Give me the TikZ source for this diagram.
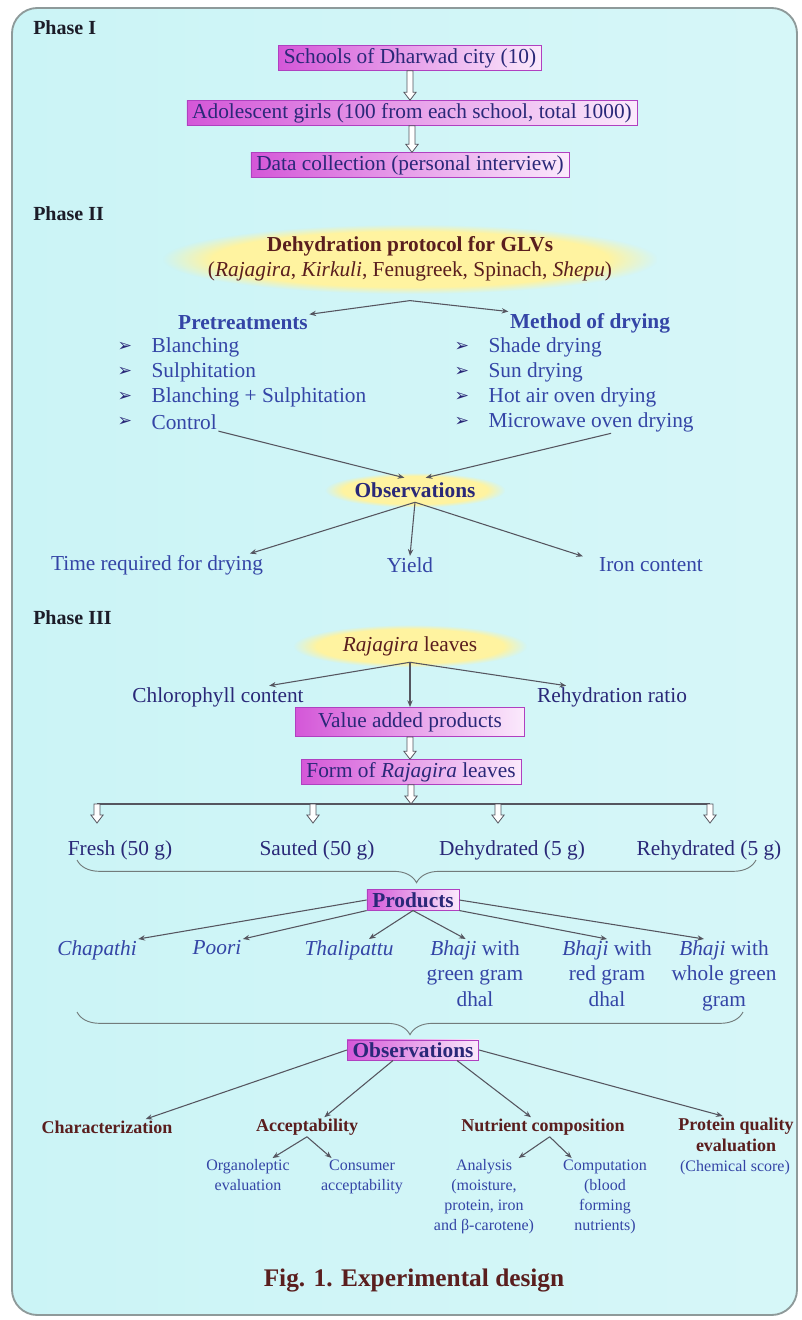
\documentclass[tikz,border=0pt]{standalone}
\usepackage{fontspec}
\setmainfont{Liberation Serif}
\newfontfamily\symfont{DejaVu Sans}
\usetikzlibrary{arrows.meta,positioning,calc,decorations.pathreplacing,fadings}
\definecolor{ink}{HTML}{1C1C28}
\definecolor{navy}{HTML}{2A2878}
\definecolor{blue}{HTML}{3445A6}
\definecolor{maroon}{HTML}{5A1E1E}
\definecolor{bgcyan}{HTML}{CBF4F6}
\definecolor{bglight}{HTML}{F1FDFD}
\definecolor{frame}{HTML}{8E9A9A}
\definecolor{magdeep}{HTML}{D457D8}
\definecolor{magpale}{HTML}{FBEAFC}
\definecolor{magedge}{HTML}{B040C0}
\definecolor{glow}{HTML}{FFF3A0}
\definecolor{linegray}{HTML}{55555F}
\tikzset{
  every node/.style={font=\fontsize{16}{19}\selectfont},
  phase/.style={font=\fontsize{15}{18}\selectfont\bfseries, text=ink, anchor=west, inner sep=0pt},
  magbox/.style={draw=magedge, line width=0.5pt, left color=magdeep, right color=magpale, text=navy, inner xsep=4pt, inner ysep=2pt},
  glowbox/.style={fill=glow, path fading=circle with fuzzy edge 20 percent, align=center},
  plain/.style={text=blue, inner sep=1pt, align=center},
  head/.style={font=\fontsize{16}{19}\selectfont\bfseries, text=blue, inner sep=1pt},
  bullet/.style={font=\symfont\fontsize{13}{14}\selectfont, text=navy, inner sep=0pt},
  crit/.style={font=\fontsize{13.5}{16}\selectfont\bfseries, text=maroon, align=center, inner sep=1pt},
  sub/.style={font=\fontsize{12}{15}\selectfont, text=blue, align=center, inner sep=1pt},
  arrow/.style={-{Stealth[length=5pt,width=4pt]}, line width=0.8pt, draw=linegray},
  hollow/.style={draw=linegray, line width=0.6pt, fill=white},
  bracket/.style={draw=frame!80!black, line width=0.7pt, decorate, decoration={brace, mirror, amplitude=17pt}},
}
\newcommand{\blockdown}[2]{%
  \filldraw[hollow] let \p1=(#1), \p2=(#2) in
    (\x1-2.2pt,\y1) -- (\x1+2.2pt,\y1) -- (\x1+2.2pt,\y2+6pt) -- (\x1+4.6pt,\y2+6pt)
    -- (\x1,\y2) -- (\x1-4.6pt,\y2+6pt) -- (\x1-2.2pt,\y2+6pt) -- cycle;}

\begin{document}
\begin{tikzpicture}[x=0.75pt, y=-0.75pt]
\useasboundingbox (0,0) rectangle (801,1320);
\shade[left color=bgcyan, middle color=bglight, right color=bgcyan!70!bglight, rounded corners=19pt] (12,8) rectangle (797,1315);
\draw[frame, line width=1.4pt, rounded corners=19pt] (12,8) rectangle (797,1315);

\node[phase] (ph1) at (33,28) {Phase I};
\node[magbox] (school) at (410,58) {Schools of Dharwad city (10)};
\node[magbox] (girls) at (412,113) {Adolescent girls (100 from each school, total 1000)};
\node[magbox] (data) at (410,165) {Data collection (personal interview)};
\blockdown{school.south}{girls.north}
\blockdown{girls.south}{data.north}

\node[phase] (ph2) at (33,214) {Phase II};
\node[glowbox, text=maroon, minimum width=370pt, minimum height=52pt, font=\fontsize{16}{19}\selectfont] (dehyd) at (410,259)
  {\textbf{Dehydration protocol for GLVs}\\(\textit{Rajagira}, \textit{Kirkuli}, Fenugreek, Spinach, \textit{Shepu})};
\node[head] (pre) at (243,323) {Pretreatments};
\node[head] (mod) at (590,323) {Method of drying};
\draw[arrow] ([yshift=-5pt]dehyd.south) -- (pre.north east);
\draw[arrow] ([yshift=-5pt]dehyd.south) -- (mod.north west);
\foreach \t [count=\i] in {Blanching, Sulphitation, Blanching + Sulphitation, Control} {
  \node[bullet] at (125,{347+25*(\i-1)}) {➢};
  \node[plain, anchor=west] (pre\i) at (150,{347+25*(\i-1)}) {\t};
}
\foreach \t [count=\i] in {Shade drying, Sun drying, Hot air oven drying, Microwave oven drying} {
  \node[bullet] at (462,{347+25*(\i-1)}) {➢};
  \node[plain, anchor=west] (mod\i) at (487,{347+25*(\i-1)}) {\t};
}
\node[glowbox, text=navy, font=\fontsize{16}{19}\selectfont\bfseries, minimum width=135pt, minimum height=26pt] (obs1) at (415,490) {Observations};
\draw[arrow] (pre4.south east) -- ([xshift=-8pt,yshift=-4pt]obs1.north);
\draw[arrow] ([xshift=15pt]mod4.south) -- ([xshift=8pt,yshift=-4pt]obs1.north);
\node[plain] (time) at (157,565) {Time required for drying};
\node[plain] (yield) at (410,565) {Yield};
\node[plain] (iron) at (651,565) {Iron content};
\draw[arrow] ([yshift=4pt]obs1.south) -- ([xshift=-11pt]time.north east);
\draw[arrow] ([yshift=4pt]obs1.south) -- (yield.north);
\draw[arrow] ([yshift=4pt]obs1.south) -- ([xshift=-11pt]iron.north west);

\node[phase] (ph3) at (33,618) {Phase III};
\node[glowbox, text=maroon, minimum width=175pt, minimum height=32pt] (rajag) at (410,646) {\textit{Rajagira} leaves};
\node[plain, text=navy] (chloro) at (218,697) {Chlorophyll content};
\node[plain, text=navy] (rehyd) at (612,697) {Rehydration ratio};
\node[magbox, minimum width=172pt, minimum height=22pt] (value) at (410,722) {Value added products};
\node[magbox, minimum width=165pt] (form) at (411,772) {Form of \textit{Rajagira} leaves};
\draw[arrow] ([yshift=4pt]rajag.south) -- ([xshift=-27pt]chloro.north east);
\draw[arrow] ([yshift=4pt]rajag.south) -- (value.north);
\draw[arrow] ([yshift=4pt]rajag.south) -- ([xshift=23pt]rehyd.north west);
\blockdown{value.south}{form.north}
\coordinate (bar) at (411,804);
\coordinate (barL) at (97,804);
\coordinate (barR) at (710,804);
\blockdown{form.south}{bar}
\draw[linegray, line width=0.8pt] (barL) -- (barR);
\foreach \pos [count=\k] in {97,313,498,710} {
  \coordinate (top\k) at (\pos,804);
  \coordinate (tip\k) at (\pos,823);
}
\blockdown{top1}{tip1}
\blockdown{top2}{tip2}
\blockdown{top3}{tip3}
\blockdown{top4}{tip4}
\node[plain, text=navy] (fresh) at (120,850) {Fresh (50 g)};
\node[plain, text=navy] (sauted) at (317,850) {Sauted (50 g)};
\node[plain, text=navy] (dehy) at (512,850) {Dehydrated (5 g)};
\node[plain, text=navy] (rehy) at (709,850) {Rehydrated (5 g)};
\coordinate (b1l) at (77,860);
\coordinate (b1r) at (756,860);
\draw[bracket] (b1l) -- (b1r);

\node[magbox, font=\fontsize{16}{19}\selectfont\bfseries] (products) at (413,900) {Products};
\node[plain, anchor=north] (chap) at (97,939) {\textit{Chapathi}};
\node[plain, anchor=north] (poori) at (217,939) {\textit{Poori}};
\node[plain, anchor=north] (thali) at (349,939) {\textit{Thalipattu}};
\node[plain, anchor=north] (bg1) at (475,939) {\textit{Bhaji} with\\green gram\\dhal};
\node[plain, anchor=north] (bg2) at (607,939) {\textit{Bhaji} with\\red gram\\dhal};
\node[plain, anchor=north] (bg3) at (724,939) {\textit{Bhaji} with\\whole green\\gram};
\draw[arrow] (products.west) -- (chap.north east);
\draw[arrow] (products.south west) -- (poori.north east);
\draw[arrow] (products.south) -- ([xshift=15pt]thali.north);
\draw[arrow] (products.south) -- ([xshift=-7pt]bg1.north);
\draw[arrow] (products.south east) -- (bg2.north);
\draw[arrow] (products.east) -- ([xshift=-15pt]bg3.north);
\coordinate (b2l) at (77,1012);
\coordinate (b2r) at (743,1012);
\draw[bracket] (b2l) -- (b2r);

\node[magbox, font=\fontsize{16}{19}\selectfont\bfseries] (obs2) at (413,1050) {Observations};
\node[crit] (char) at (107,1127) {Characterization};
\node[crit] (accep) at (307,1127) {Acceptability};
\node[crit] (nutr) at (543,1127) {Nutrient composition};
\node[crit, anchor=north] (prot) at (736,1116) {Protein quality\\evaluation};
\node[sub] (chem) at (735,1168) {(Chemical score)};
\draw[arrow] (obs2.west) -- ([xshift=29pt]char.north);
\draw[arrow] ([xshift=-15pt]obs2.south) -- ([xshift=13pt]accep.north);
\draw[arrow] ([xshift=33pt]obs2.south) -- ([xshift=-9pt]nutr.north);
\draw[arrow] (obs2.east) -- ([xshift=-10pt]prot.north);
\node[sub, anchor=north] (org) at (248,1158) {Organoleptic\\evaluation};
\node[sub, anchor=north] (cons) at (362,1158) {Consumer\\acceptability};
\node[sub, anchor=north] (analysis) at (484,1158) {Analysis\\(moisture,\\protein, iron\\and β-carotene)};
\node[sub, anchor=north] (comp) at (605,1158) {Computation\\(blood\\forming\\nutrients)};
\draw[arrow] (accep.south) -- ([xshift=-14pt]org.north east);
\draw[arrow] (accep.south) -- ([xshift=9pt]cons.north west);
\draw[arrow] ([xshift=5pt]nutr.south) -- ([xshift=26pt]analysis.north);
\draw[arrow] ([xshift=5pt]nutr.south) -- ([xshift=-25pt]comp.north);

\node[font=\fontsize{19}{22}\selectfont\bfseries, text=maroon] (caption) at (414,1280) {Fig. 1. Experimental design};
\end{tikzpicture}
\end{document}
